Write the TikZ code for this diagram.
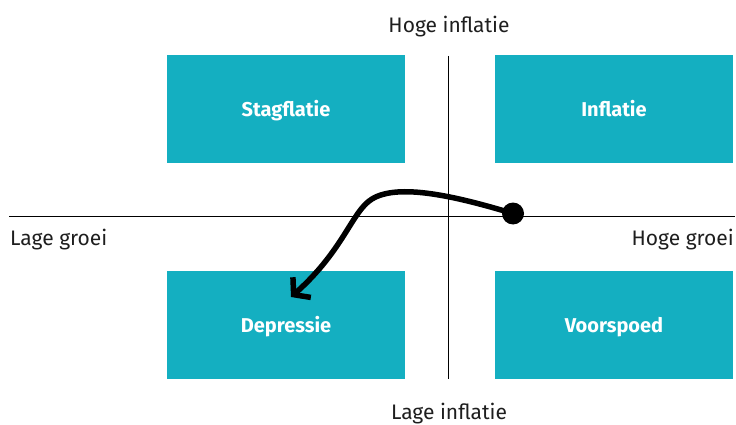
\documentclass[tikz,border=0pt]{standalone}
\usepackage{fontspec}
\setmainfont{Fira Sans}
\usetikzlibrary{arrows.meta}
\definecolor{quad}{RGB}{20,175,193}
\definecolor{ink}{RGB}{30,30,30}
\tikzset{
  quadbox/.style={fill=quad, draw=none, minimum width=238pt, minimum height=108pt, inner sep=0pt},
  quadlabel/.style={text=white, font=\fontsize{20}{24}\selectfont\bfseries, anchor=base},
  axislabel/.style={text=ink, font=\fontsize{21}{25}\selectfont, inner sep=0pt},
  axis/.style={draw=black, line width=1pt},
  path/.style={line width=5.5pt, line cap=round, line join=round}
}
\begin{document}
\begin{tikzpicture}[x=1pt, y=-1pt]
  \useasboundingbox (0,0) rectangle (736,425);

  % quadrant boxes
  \node[quadbox] (stag) at (286,109) {};
  \node[quadbox] (infl) at (614,109) {};
  \node[quadbox] (depr) at (286,325) {};
  \node[quadbox] (voor) at (614,325) {};
  \node[quadlabel] at (286,116.5) {Stagflatie};
  \node[quadlabel] at (614,116.5) {Inflatie};
  \node[quadlabel] at (286,332.5) {Depressie};
  \node[quadlabel] at (614,332.5) {Voorspoed};

  % axes
  \coordinate (xl) at (9,216.5);
  \coordinate (xr) at (735,216.5);
  \coordinate (yt) at (448.5,56);
  \coordinate (yb) at (448.5,379);
  \draw[axis] (xl) -- (xr);
  \draw[axis] (yt) -- (yb);

  % axis labels
  \node[axislabel, anchor=base west] (lg) at (10,245) {Lage groei};
  \node[axislabel, anchor=base east] (hg) at (734,245) {Hoge groei};
  \node[axislabel, anchor=base] (hi) at (449,33) {Hoge inflatie};
  \node[axislabel, anchor=base] (li) at (449,419) {Lage inflatie};

  % movement from current position into depression
  \node[circle, fill=black, minimum size=22pt, inner sep=0pt] (now) at (513,213.5) {};
  \coordinate (bend) at (372,199);
  \coordinate (tip) at (291,297);
  \draw[path, -{Straight Barb[length=11pt, width=27pt, line width=5.5pt]}]
    (now.center) .. controls (455,196) and (398,183) .. (bend)
    .. controls (352,211) and (344,250) .. (tip);
\end{tikzpicture}
\end{document}
